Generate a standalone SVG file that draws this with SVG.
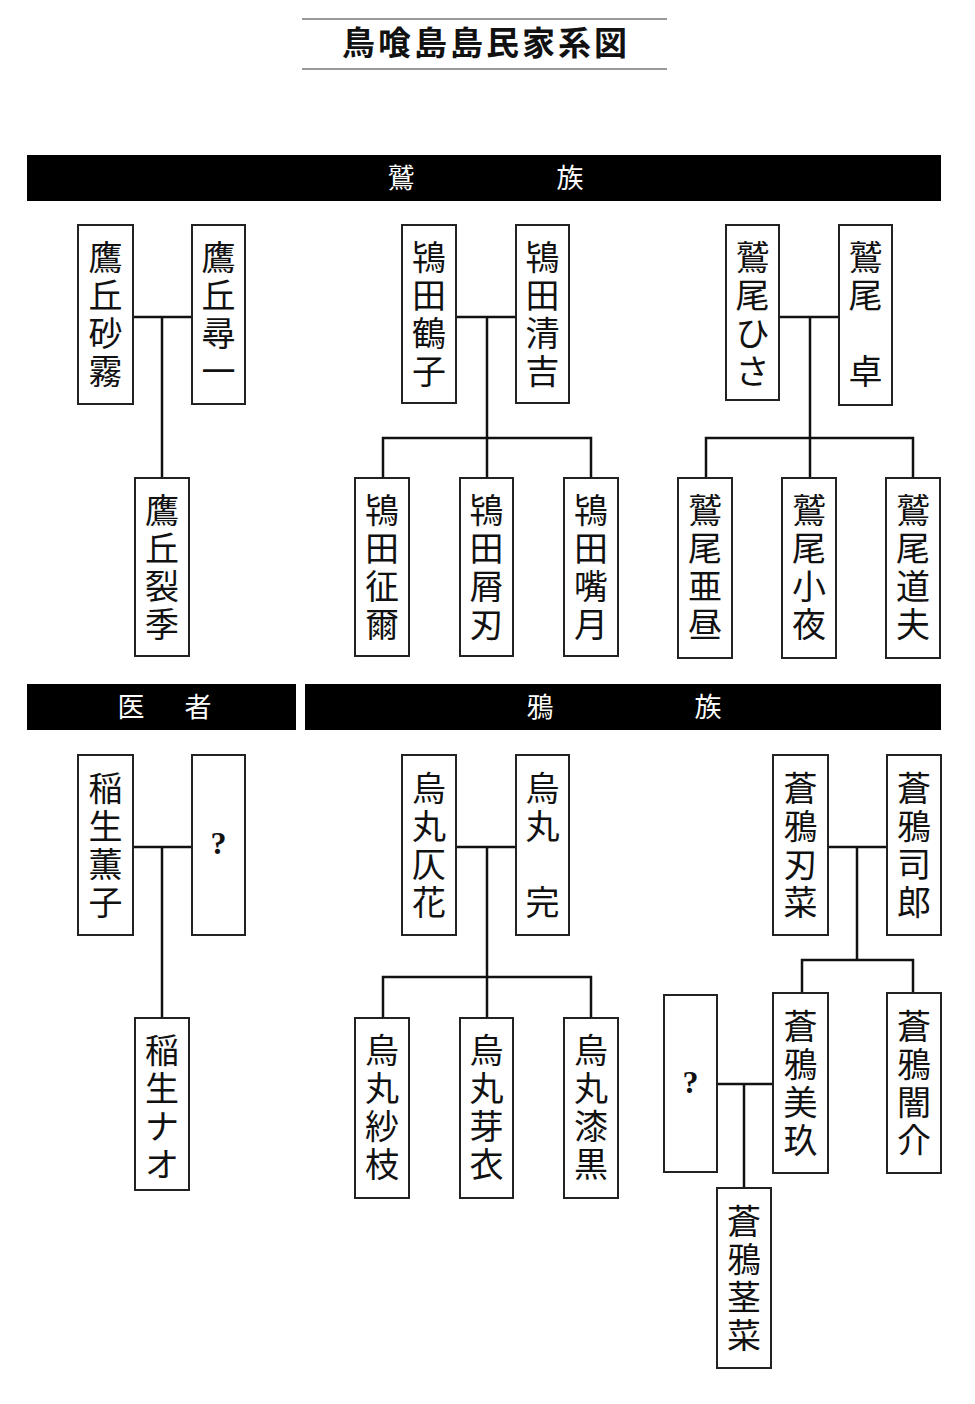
<svg xmlns="http://www.w3.org/2000/svg" width="975" height="1404" viewBox="0 0 975 1404">
<style>
.bg{fill:#fff}
.box{fill:#fff;stroke:#222;stroke-width:2}
.band{fill:#000}
.nm{font-family:"Liberation Serif","Noto Sans CJK JP",serif;font-size:34px;fill:#111;text-anchor:middle;dominant-baseline:central}
.q{font-family:"Liberation Serif","Noto Sans CJK JP",serif;font-size:32px;font-weight:bold;fill:#111;text-anchor:middle;dominant-baseline:central}
.hd{font-family:"Liberation Serif","Noto Sans CJK JP",serif;font-size:27px;fill:#fff;text-anchor:middle;dominant-baseline:central}
.title{font-family:"Liberation Serif","Noto Sans CJK JP",serif;font-size:33px;font-weight:bold;fill:#111;text-anchor:middle;dominant-baseline:central;letter-spacing:3px}
.rule{stroke:#777;stroke-width:1.5}
.ln{fill:none;stroke:#111;stroke-width:2.5}
</style>
<rect class="bg" x="0" y="0" width="975" height="1404"/>
<g id="title">
<line class="rule" x1="302" y1="19" x2="667" y2="19"/>
<line class="rule" x1="302" y1="69" x2="667" y2="69"/>
<text class="title" x="486" y="44">鳥喰島島民家系図</text>
</g>
<g id="hdr-washi">
<rect class="band" x="27" y="155" width="914" height="46"/>
<text class="hd" x="401" y="179">鷲</text>
<text class="hd" x="570" y="179">族</text>
</g>
<g id="hdr-isha">
<rect class="band" x="27" y="684" width="269" height="46"/>
<text class="hd" x="131" y="708">医</text>
<text class="hd" x="198" y="708">者</text>
</g>
<g id="hdr-karasu">
<rect class="band" x="305" y="684" width="636" height="46"/>
<text class="hd" x="540" y="708">鴉</text>
<text class="hd" x="708" y="708">族</text>
</g>
<g id="connectors">
<path class="ln" d="M133 317H192M162 317V478"/>
<path class="ln" d="M456 317H516M487 317V438M383 478V438H591V478M487 438V478"/>
<path class="ln" d="M779 317H839M810 317V438M706 478V438H913V478M810 438V478"/>
<path class="ln" d="M133 847H192M162 847V1018"/>
<path class="ln" d="M456 847H516M487 847V977M383 1018V977H591V1018M487 977V1018"/>
<path class="ln" d="M828 847H887M857 847V960M802 993V960H913V993"/>
<path class="ln" d="M717 1084H773M744 1084V1188"/>
</g>
<g id="takaoka-sagiri"><rect class="box" x="78" y="225" width="55" height="179"/><text class="nm"><tspan x="105.5" y="258">鷹</tspan><tspan x="105.5" y="296">丘</tspan><tspan x="105.5" y="334">砂</tspan><tspan x="105.5" y="372">霧</tspan></text></g>
<g id="takaoka-jinichi"><rect class="box" x="192" y="225" width="53" height="179"/><text class="nm"><tspan x="218.5" y="258">鷹</tspan><tspan x="218.5" y="296">丘</tspan><tspan x="218.5" y="334">尋</tspan><tspan x="218.5" y="372">一</tspan></text></g>
<g id="takaoka-reki"><rect class="box" x="135" y="478" width="54" height="178"/><text class="nm"><tspan x="162" y="511">鷹</tspan><tspan x="162" y="549">丘</tspan><tspan x="162" y="587">裂</tspan><tspan x="162" y="625">季</tspan></text></g>
<g id="tokita-tsuruko"><rect class="box" x="402" y="225" width="54" height="178"/><text class="nm"><tspan x="429" y="258">鴇</tspan><tspan x="429" y="296">田</tspan><tspan x="429" y="334">鶴</tspan><tspan x="429" y="372">子</tspan></text></g>
<g id="tokita-seikichi"><rect class="box" x="516" y="225" width="53" height="178"/><text class="nm"><tspan x="542.5" y="258">鴇</tspan><tspan x="542.5" y="296">田</tspan><tspan x="542.5" y="334">清</tspan><tspan x="542.5" y="372">吉</tspan></text></g>
<g id="tokita-seiji"><rect class="box" x="355" y="478" width="54" height="178"/><text class="nm"><tspan x="382" y="511">鴇</tspan><tspan x="382" y="549">田</tspan><tspan x="382" y="587">征</tspan><tspan x="382" y="625">爾</tspan></text></g>
<g id="tokita-setsujin"><rect class="box" x="460" y="478" width="53" height="178"/><text class="nm"><tspan x="486.5" y="511">鴇</tspan><tspan x="486.5" y="549">田</tspan><tspan x="486.5" y="587">屑</tspan><tspan x="486.5" y="625">刃</tspan></text></g>
<g id="tokita-shizuki"><rect class="box" x="564" y="478" width="54" height="178"/><text class="nm"><tspan x="591" y="511">鴇</tspan><tspan x="591" y="549">田</tspan><tspan x="591" y="587">嘴</tspan><tspan x="591" y="625">月</tspan></text></g>
<g id="washio-hisa"><rect class="box" x="726" y="225" width="53" height="175"/><text class="nm"><tspan x="752.5" y="258">鷲</tspan><tspan x="752.5" y="296">尾</tspan><tspan x="752.5" y="334">ひ</tspan><tspan x="752.5" y="372">さ</tspan></text></g>
<g id="washio-suguru"><rect class="box" x="839" y="225" width="53" height="180"/><text class="nm"><tspan x="865.5" y="258">鷲</tspan><tspan x="865.5" y="296">尾</tspan><tspan x="865.5" y="372">卓</tspan></text></g>
<g id="washio-ahiru"><rect class="box" x="678" y="478" width="54" height="180"/><text class="nm"><tspan x="705" y="511">鷲</tspan><tspan x="705" y="549">尾</tspan><tspan x="705" y="587">亜</tspan><tspan x="705" y="625">昼</tspan></text></g>
<g id="washio-sayo"><rect class="box" x="782" y="478" width="54" height="180"/><text class="nm"><tspan x="809" y="511">鷲</tspan><tspan x="809" y="549">尾</tspan><tspan x="809" y="587">小</tspan><tspan x="809" y="625">夜</tspan></text></g>
<g id="washio-michio"><rect class="box" x="886" y="478" width="54" height="180"/><text class="nm"><tspan x="913" y="511">鷲</tspan><tspan x="913" y="549">尾</tspan><tspan x="913" y="587">道</tspan><tspan x="913" y="625">夫</tspan></text></g>
<g id="inou-kaoruko"><rect class="box" x="78" y="755" width="55" height="180"/><text class="nm"><tspan x="105.5" y="789">稲</tspan><tspan x="105.5" y="827">生</tspan><tspan x="105.5" y="865">薫</tspan><tspan x="105.5" y="903">子</tspan></text></g>
<g id="inou-unknown"><rect class="box" x="192" y="755" width="53" height="180"/><text class="q" x="218.5" y="843">?</text></g>
<g id="inou-nao"><rect class="box" x="135" y="1018" width="54" height="172"/><text class="nm"><tspan x="162" y="1051">稲</tspan><tspan x="162" y="1089">生</tspan><tspan x="162" y="1127">ナ</tspan><tspan x="162" y="1165">オ</tspan></text></g>
<g id="karasuma-honoka"><rect class="box" x="402" y="755" width="54" height="180"/><text class="nm"><tspan x="429" y="789">烏</tspan><tspan x="429" y="827">丸</tspan><tspan x="429" y="865">仄</tspan><tspan x="429" y="903">花</tspan></text></g>
<g id="karasuma-kan"><rect class="box" x="516" y="755" width="53" height="180"/><text class="nm"><tspan x="542.5" y="789">烏</tspan><tspan x="542.5" y="827">丸</tspan><tspan x="542.5" y="903">完</tspan></text></g>
<g id="karasuma-saeda"><rect class="box" x="355" y="1018" width="54" height="180"/><text class="nm"><tspan x="382" y="1051">烏</tspan><tspan x="382" y="1089">丸</tspan><tspan x="382" y="1127">紗</tspan><tspan x="382" y="1165">枝</tspan></text></g>
<g id="karasuma-mei"><rect class="box" x="460" y="1018" width="53" height="180"/><text class="nm"><tspan x="486.5" y="1051">烏</tspan><tspan x="486.5" y="1089">丸</tspan><tspan x="486.5" y="1127">芽</tspan><tspan x="486.5" y="1165">衣</tspan></text></g>
<g id="karasuma-shikkoku"><rect class="box" x="564" y="1018" width="54" height="180"/><text class="nm"><tspan x="591" y="1051">烏</tspan><tspan x="591" y="1089">丸</tspan><tspan x="591" y="1127">漆</tspan><tspan x="591" y="1165">黒</tspan></text></g>
<g id="aoa-hana"><rect class="box" x="773" y="755" width="55" height="180"/><text class="nm"><tspan x="800.5" y="789">蒼</tspan><tspan x="800.5" y="827">鴉</tspan><tspan x="800.5" y="865">刃</tspan><tspan x="800.5" y="903">菜</tspan></text></g>
<g id="aoa-shiro"><rect class="box" x="887" y="755" width="54" height="180"/><text class="nm"><tspan x="914" y="789">蒼</tspan><tspan x="914" y="827">鴉</tspan><tspan x="914" y="865">司</tspan><tspan x="914" y="903">郎</tspan></text></g>
<g id="aoa-unknown"><rect class="box" x="664" y="995" width="53" height="177"/><text class="q" x="690.5" y="1082">?</text></g>
<g id="aoa-miku"><rect class="box" x="773" y="993" width="55" height="180"/><text class="nm"><tspan x="800.5" y="1027">蒼</tspan><tspan x="800.5" y="1065">鴉</tspan><tspan x="800.5" y="1103">美</tspan><tspan x="800.5" y="1141">玖</tspan></text></g>
<g id="aoa-ansuke"><rect class="box" x="887" y="993" width="54" height="180"/><text class="nm"><tspan x="914" y="1027">蒼</tspan><tspan x="914" y="1065">鴉</tspan><tspan x="914" y="1103">闇</tspan><tspan x="914" y="1141">介</tspan></text></g>
<g id="aoa-keina"><rect class="box" x="717" y="1188" width="54" height="180"/><text class="nm"><tspan x="744" y="1222">蒼</tspan><tspan x="744" y="1260">鴉</tspan><tspan x="744" y="1298">茎</tspan><tspan x="744" y="1336">菜</tspan></text></g>
</svg>
